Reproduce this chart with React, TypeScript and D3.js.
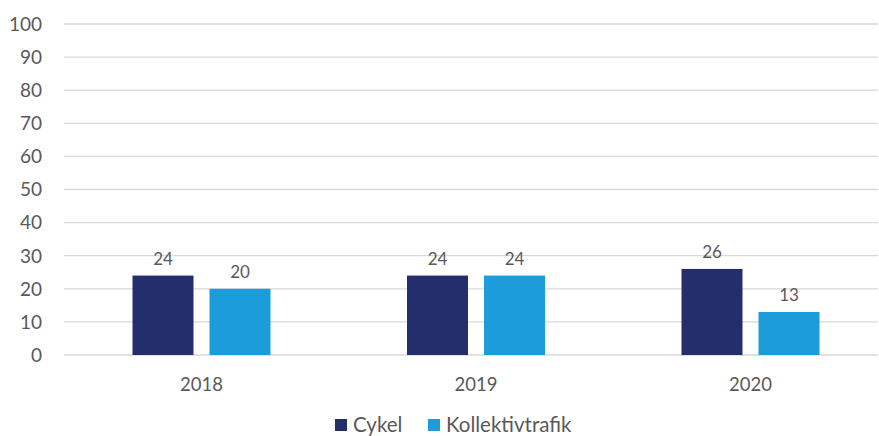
import React from "react";
import * as d3 from "d3";

const categories = ["2018", "2019", "2020"];
const seriesNames = ["Cykel", "Kollektivtrafik"];
const cykel = [24, 24, 26];
const kollektivtrafik = [20, 24, 13];
const yTicks = [0, 10, 20, 30, 40, 50, 60, 70, 80, 90, 100];
const colors = ["#252E6C", "#1C9DD9"];

const W = 879;
const H = 436;
const FONT = "Lato, 'Open Sans', sans-serif";
const TEXT = "#595959";

export default function App() {
  const values = [cykel, kollektivtrafik];
  const x = d3.scaleBand<string>().domain(categories).range([64.25, 887.75]).padding(0);
  const bw = x.bandwidth();
  const inner = d3
    .scaleBand<string>()
    .domain(seriesNames)
    .range([bw / 2 - 69, bw / 2 + 69])
    .paddingInner(16 / 77)
    .paddingOuter(0);
  const y = d3.scaleLinear().domain([0, 100]).range([355, 24]);

  return (
    <svg width={W} height={H} style={{ position: "absolute", left: 0, top: 0, background: "#fff" }}>
      {yTicks.map((t) => (
        <g key={t}>
          <line x1={64} x2={878} y1={y(t)} y2={y(t)} stroke="#D9D9D9" strokeWidth={1.3} />
          <text x={42} y={y(t)} dy="0.36em" textAnchor="end" fontFamily={FONT} fontSize={19} fill={TEXT}>
            {t}
          </text>
        </g>
      ))}
      {categories.map((c, i) => (
        <g key={c}>
          {seriesNames.map((s, j) => {
            const v = values[j][i];
            const bx = (x(c) as number) + (inner(s) as number);
            return (
              <g key={s}>
                <rect x={bx} y={y(v)} width={inner.bandwidth()} height={y(0) - y(v)} fill={colors[j]} />
                <text
                  x={bx + inner.bandwidth() / 2}
                  y={y(v) - 11}
                  textAnchor="middle"
                  fontFamily={FONT}
                  fontSize={17}
                  fill={TEXT}
                >
                  {v}
                </text>
              </g>
            );
          })}
          <text
            x={(x(c) as number) + bw / 2}
            y={391}
            textAnchor="middle"
            fontFamily={FONT}
            fontSize={18.5}
            fill={TEXT}
          >
            {c}
          </text>
        </g>
      ))}
      <g>
        <rect x={335} y={419} width={12} height={12} fill={colors[0]} />
        <text x={353} y={432} fontFamily={FONT} fontSize={20.5} fill={TEXT}>
          {seriesNames[0]}
        </text>
        <rect x={428} y={419} width={12} height={12} fill={colors[1]} />
        <text x={446} y={432} fontFamily={FONT} fontSize={20.5} fill={TEXT}>
          {seriesNames[1]}
        </text>
      </g>
    </svg>
  );
}
